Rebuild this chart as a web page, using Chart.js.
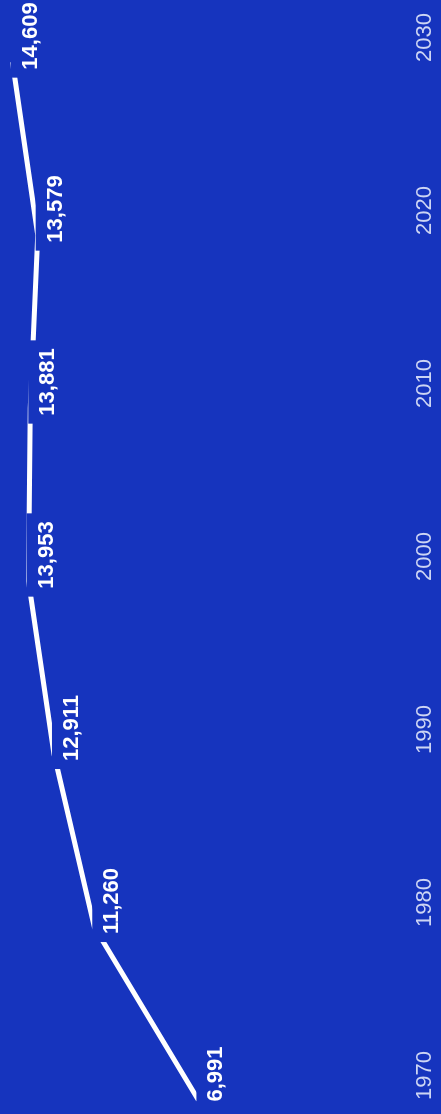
<!DOCTYPE html>
<html>
<head>
<meta charset="utf-8">
<script src="https://cdn.jsdelivr.net/npm/chart.js@4/dist/chart.umd.min.js"></script>
<style>
  html, body { margin: 0; padding: 0; background: #1634be; overflow: hidden; }
  #wrap {
    position: absolute; left: 0; top: 0;
    width: 1114px; height: 441px;
    transform-origin: 0 0;
    transform: translateY(1114px) rotate(-90deg);
  }
</style>
</head>
<body>
<div id="wrap"><canvas id="myChart" width="1114" height="441"></canvas></div>
<script>
var years = ['1970', '1980', '1990', '2000', '2010', '2020', '2030'];
var values = [6991, 11260, 12911, 13953, 13881, 13579, 14609];

var BG = '#1634be';

// value labels sit on a box of background colour, so the line breaks under them
var valueLabels = {
    id: 'valueLabels',
    afterDatasetsDraw: function(chart) {
        var ctx = chart.ctx;
        var pts = chart.getDatasetMeta(0).data;
        ctx.save();
        ctx.font = 'bold 22px "Liberation Sans", Arial, sans-serif';
        ctx.textAlign = 'center';
        ctx.textBaseline = 'alphabetic';
        pts.forEach(function(p, i) {
            var txt = values[i].toLocaleString('en-US');
            var w = ctx.measureText(txt).width;
            var cx = p.x + 26;
            var cy = p.y + 16;
            ctx.fillStyle = BG;
            ctx.fillRect(cx - w / 2 - 8, cy - 18, w + 16, 33);
            ctx.fillStyle = '#ffffff';
            ctx.fillText(txt, cx, cy + 8);
        });
        ctx.restore();
    }
};

var ctx = document.getElementById('myChart').getContext('2d');
var chart = new Chart(ctx, {
    type: 'line',
    data: {
        labels: years,
        datasets: [{
            data: values,
            borderColor: '#ffffff',
            borderWidth: 5,
            pointRadius: 0,
            tension: 0,
            fill: false
        }]
    },
    options: {
        responsive: false,
        animation: false,
        layout: { padding: { left: 14, right: 62, top: 3, bottom: 3 } },
        plugins: {
            legend: { display: false },
            tooltip: { enabled: false }
        },
        scales: {
            x: {
                offset: false,
                grid: { display: false, drawTicks: false },
                border: { display: false },
                ticks: {
                    align: 'start',
                    padding: 43,
                    color: '#cdd5f4',
                    font: { family: '"Liberation Sans", Arial, sans-serif', size: 22 }
                },
                // keep the plot edges where the reference has them
                afterFit: function(scale) {
                    scale.paddingLeft = 0;
                    scale.paddingRight = 0;
                    scale.height = 69;
                }
            },
            y: {
                display: false,
                min: 0,
                max: 15000
            }
        }
    },
    plugins: [valueLabels]
});
</script>
</body>
</html>
